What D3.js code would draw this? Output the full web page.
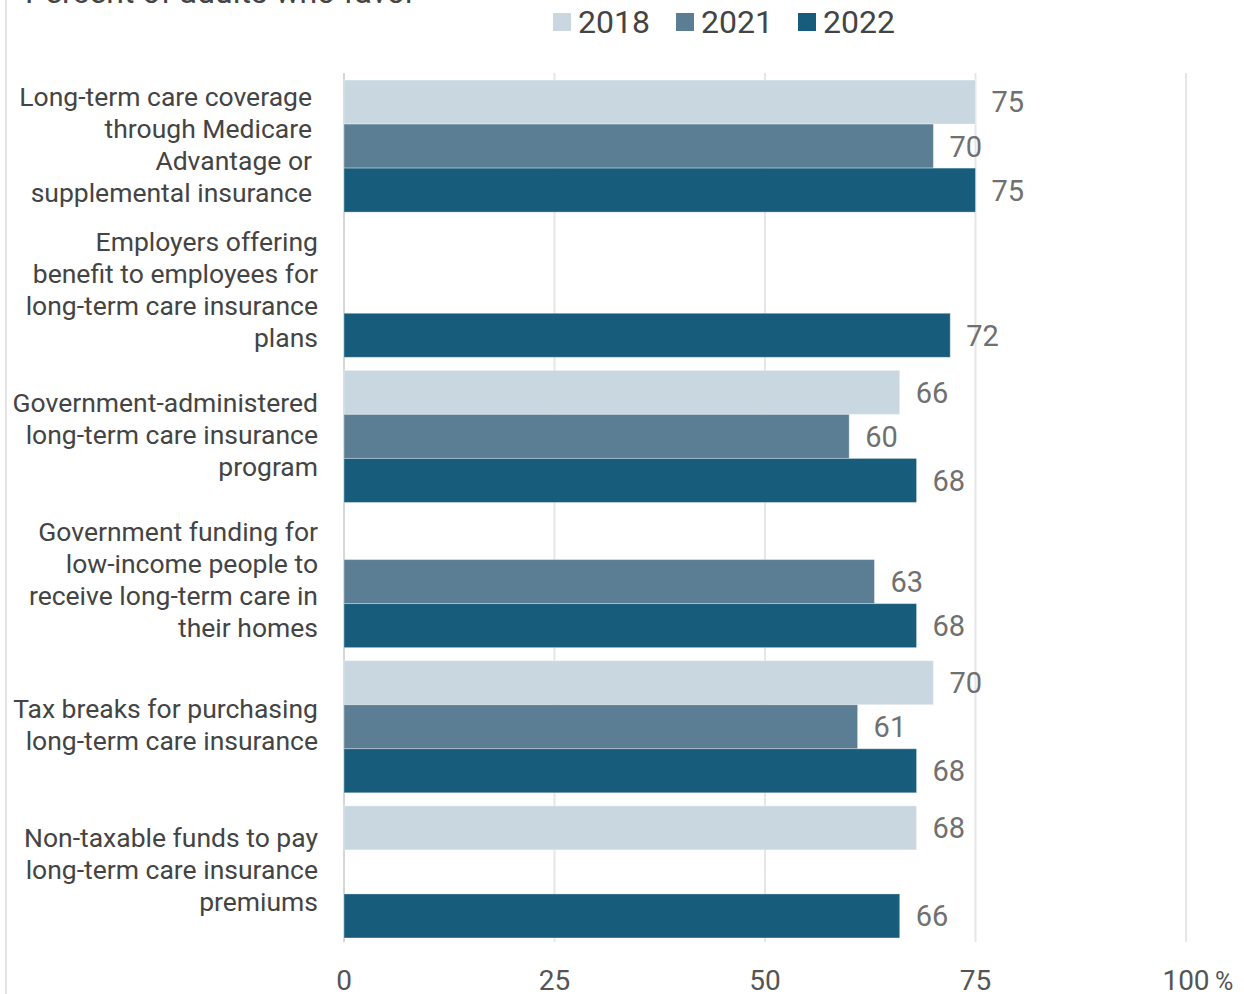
<!DOCTYPE html>
<html>
<head>
<meta charset="utf-8">
<script src="https://cdn.jsdelivr.net/npm/d3@7"></script>
<style>
  html, body { margin: 0; padding: 0; background: #fff; }
  svg { display: block; font-family: Roboto, "Noto Sans", sans-serif; }
</style>
</head>
<body>
<svg id="chart" width="1244" height="994"></svg>
<script>
// Support for long-term care policies, percent of adults who favor
const categories = [
  ["Long-term care coverage", "through Medicare", "Advantage or", "supplemental insurance"],
  ["Employers offering", "benefit to employees for", "long-term care insurance", "plans"],
  ["Government-administered", "long-term care insurance", "program"],
  ["Government funding for", "low-income people to", "receive long-term care in", "their homes"],
  ["Tax breaks for purchasing", "long-term care insurance"],
  ["Non-taxable funds to pay", "long-term care insurance", "premiums"]
];
const years = ["2018", "2021", "2022"];
const values2018 = [75, null, 66, null, 70, 68];
const values2021 = [70, null, 60, 63, 61, null];
const values2022 = [75, 72, 68, 68, 68, 66];
const tickValues = [0, 25, 50, 75, 100];
const colors = ["#c9d8e0", "#5b7e94", "#175c7b"];

const series = [values2018, values2021, values2022];
const svg = d3.select("#chart");

const x = d3.scaleLinear().domain([0, 100]).range([344, 1186]);
const y = d3.scaleBand().domain(d3.range(categories.length))
  .range([73.5, 944.5]).paddingInner(0.09).paddingOuter(0.045);
const ySub = d3.scaleBand().domain(years).range([0, y.bandwidth()]);

// left frame line
svg.append("line").attr("x1", 6).attr("x2", 6).attr("y1", 0).attr("y2", 994)
  .attr("stroke", "#e2e2e2").attr("stroke-width", 2);

// title (top of frame)
svg.append("text").attr("x", 25).attr("y", 3)
  .attr("font-size", 32).attr("fill", "#444")
  .text("Percent of adults who favor");

// grid lines
svg.append("g").selectAll("line").data(tickValues).join("line")
  .attr("x1", d => x(d)).attr("x2", d => x(d))
  .attr("y1", 73).attr("y2", 942)
  .attr("stroke", d => d === 0 ? "#d6d6d6" : "#e6e6e6")
  .attr("stroke-width", 2);

// bars
const groups = svg.append("g").selectAll("g").data(categories).join("g")
  .attr("transform", (d, i) => `translate(0,${y(i)})`);

groups.each(function (d, i) {
  const g = d3.select(this);
  years.forEach((yr, k) => {
    const v = series[k][i];
    if (v == null) return;
    g.append("rect")
      .attr("x", x(0)).attr("y", ySub(yr))
      .attr("width", x(v) - x(0)).attr("height", ySub.bandwidth())
      .attr("fill", colors[k])
      .attr("stroke", "#ffffff").attr("stroke-opacity", 0.35).attr("stroke-width", 1);
  });
});

// value labels
groups.each(function (d, i) {
  const g = d3.select(this);
  years.forEach((yr, k) => {
    const v = series[k][i];
    if (v == null) return;
    g.append("text")
      .attr("x", x(v) + 16).attr("y", ySub(yr) + ySub.bandwidth() / 2)
      .attr("dy", "0.36em")
      .attr("font-size", 29).attr("fill", "#707070")
      .text(v);
  });
});

// category labels
groups.each(function (lines, i) {
  const g = d3.select(this);
  const lh = 32;
  const mid = y.bandwidth() / 2 - 2;
  const t = g.append("text").attr("text-anchor", "end")
    .attr("font-size", 26.5).attr("fill", "#444");
  lines.forEach((ln, j) => {
    t.append("tspan").attr("x", i === 0 ? 312 : 318)
      .attr("y", mid + (j - (lines.length - 1) / 2) * lh)
      .attr("dy", "0.36em").text(ln);
  });
});

// x axis tick labels
const axisG = svg.append("g").attr("transform", "translate(0,980)");
axisG.selectAll("text.tick").data(tickValues).join("text")
  .attr("class", "tick")
  .attr("x", d => x(d)).attr("dy", "0.36em")
  .attr("text-anchor", "middle")
  .attr("font-size", 28).attr("fill", "#555")
  .text(d => d);
// percent sign follows the last tick label
axisG.append("text")
  .attr("x", x(100) + 29).attr("dy", "0.4em")
  .attr("font-size", 25).attr("fill", "#555")
  .text("%");

// legend
const legend = svg.append("g");
const legendX = [553, 676, 798];
years.forEach((yr, k) => {
  legend.append("rect").attr("x", legendX[k]).attr("y", 13)
    .attr("width", 18).attr("height", 18).attr("fill", colors[k]);
  legend.append("text").attr("x", legendX[k] + 25).attr("y", 21)
    .attr("dy", "0.36em").attr("font-size", 32).attr("fill", "#444").text(yr);
});
</script>
</body>
</html>
